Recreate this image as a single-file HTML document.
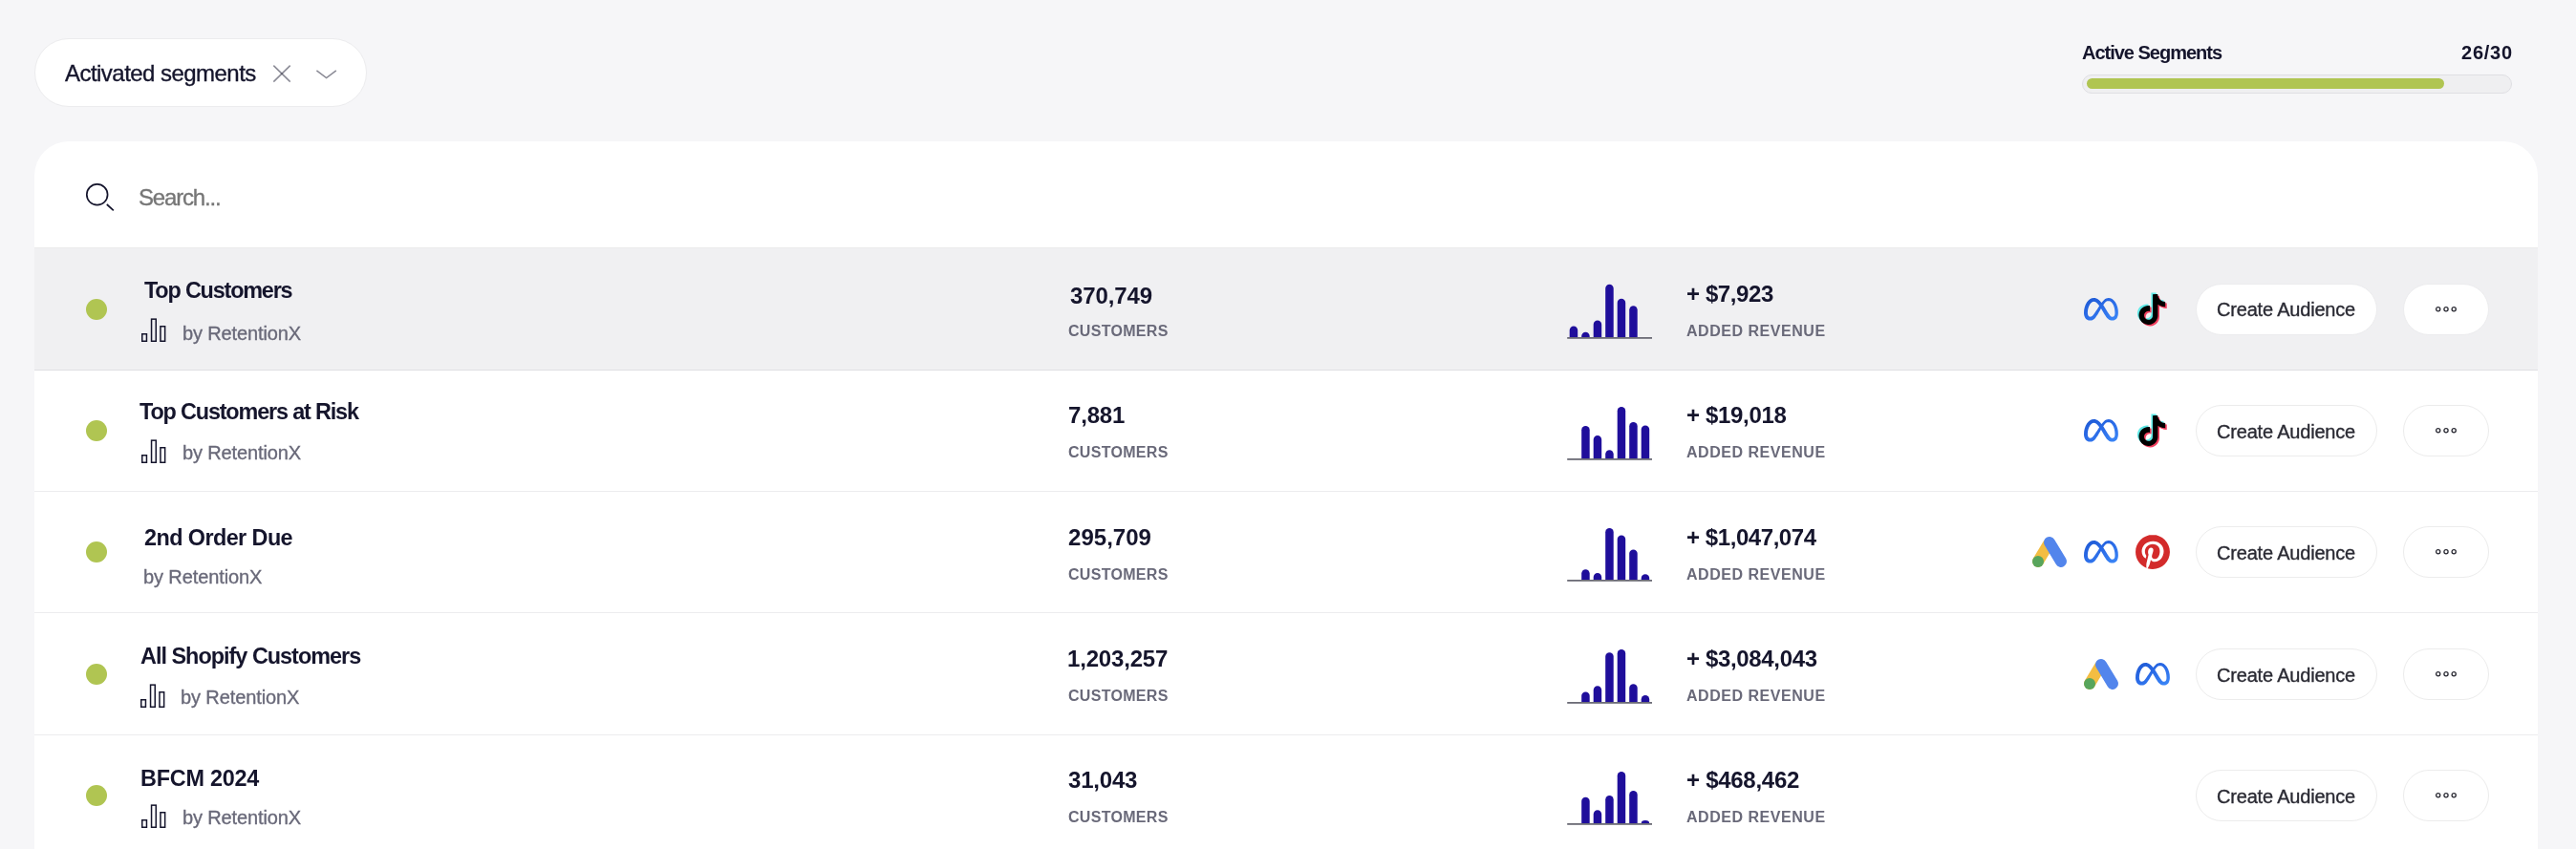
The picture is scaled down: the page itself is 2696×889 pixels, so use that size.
<!DOCTYPE html>
<html lang="en"><head><meta charset="utf-8"><title>Segments</title>
<style>
html,body{margin:0;padding:0}
html{overflow:hidden;width:2696px;height:889px}
body{width:2696px;height:889px;overflow:hidden;background:#f6f6f8;position:relative;font-family:"Liberation Sans", sans-serif}
h3,strong,span{font-weight:inherit;font-size:inherit}
.abs{position:absolute;box-sizing:content-box}
.t{position:absolute;white-space:nowrap;margin:0;padding:0;will-change:transform}
svg{display:block;overflow:visible}
.pill{border-radius:36px;background:#fff;border:1px solid #ececee}
.track{border-radius:10px;background:#efeff1;border:1px solid #dfdfe3}
.fill{border-radius:6px;background:#b0c552}
.cardbg{border-radius:36px 36px 0 0;background:#fff}
.line{left:36px;width:2620px;height:1px;background:#ececee}
.dot{width:22px;height:22px;border-radius:50%;background:#b0c552}
.btn{border-radius:27px;background:#fff;border:1px solid #ececec}
.btn.hov{border-color:#ececee}
</style></head><body>
<svg width="0" height="0" style="position:absolute"><defs><linearGradient id="mg" x1="0.1" y1="0" x2="0.9" y2="1"><stop offset="0" stop-color="#1f5ad4"/><stop offset="0.45" stop-color="#2a6ae6"/><stop offset="1" stop-color="#3b86f7"/></linearGradient></defs></svg>
<header class="toolbar">
<div class="filter">
<div class="abs pill" style="left:36px;top:40px;width:346px;height:70px"></div>
<svg class="abs" style="left:284px;top:65.7px" width="22" height="22" viewBox="0 0 22 22"><path d="M2.3 2.6L19.7 19.6" stroke="#15152c" stroke-opacity="0.5" stroke-width="1.5" fill="none"/><path d="M19.7 2.6L2.3 19.6" stroke="#15152c" stroke-opacity="0.5" stroke-width="1.5" fill="none"/></svg>
<svg class="abs" style="left:329px;top:69.7px" width="26" height="16" viewBox="0 0 26 16"><path d="M2.4 3.8L12.6 11.6L22.8 3.8" stroke="#15152c" stroke-opacity="0.5" stroke-width="1.5" fill="none"/></svg>
<span class="t" style="left:68.10px;top:63.00px;font-size:24px;line-height:27px;font-weight:400;color:#15152c;letter-spacing:-0.538px;-webkit-text-stroke:0.35px #15152c">Activated segments</span>
</div>
<div class="quota">
<div class="abs track" style="left:2179px;top:78px;width:448px;height:18px"></div>
<div class="abs fill" style="left:2184px;top:82px;width:374px;height:11px"></div>
<span class="t" style="left:2179.20px;top:44.00px;font-size:20px;line-height:22px;font-weight:700;color:#15152c;letter-spacing:-1.011px">Active Segments</span>
<span class="t" style="left:2575.90px;top:44.00px;font-size:20px;line-height:22px;font-weight:700;color:#15152c;letter-spacing:0.769px">26/30</span>
</div>
</header>
<main class="card">
<div class="abs cardbg" style="left:36px;top:147.6px;width:2620px;height:741.4px"></div>
<div class="search">
<svg class="abs" style="left:86px;top:188px" width="36" height="36" viewBox="0 0 36 36"><circle cx="15.7" cy="15.8" r="10.9" stroke="#15152c" stroke-width="1.7" fill="none"/><path d="M25.8 26.0L32.8 32.4" stroke="#15152c" stroke-width="1.7" fill="none"/></svg>
<div class="abs line" style="top:259px;background:#ebebec"></div>
<span class="t" style="left:145.10px;top:193.00px;font-size:24px;line-height:27px;font-weight:400;color:#767676;letter-spacing:-1.185px;-webkit-text-stroke:0.35px #767676">Search...</span>
</div>
<section class="row hover">
<div class="abs" style="left:36px;top:259px;width:2620px;height:128px;background:#f0f0f2"></div>
<div class="abs line" style="top:259px;background:#ebebec"></div>
<div class="abs line" style="top:387px;background:#dfdfe3"></div>
<div class="abs dot" style="left:90px;top:312.5px"></div>
<svg class="abs" style="left:146.7px;top:331.8px" width="28" height="27" viewBox="0 0 28 27" fill="none" stroke="#15152c" stroke-width="1.5"><rect x="1.75" y="17.75" width="4.70" height="7.50"/><rect x="11.55" y="2.15" width="4.70" height="23.10"/><rect x="20.95" y="9.75" width="4.70" height="15.50"/></svg>
<svg class="abs" style="left:1636px;top:283.0px" width="100" height="74" viewBox="0 0 100 74" fill="#1f0e9b"><path d="M6.70 70V62.75A4.25 4.25 0 0 1 15.20 62.75V70Z"/><path d="M19.20 70V68.95A4.25 4.25 0 0 1 27.70 68.95V70Z"/><path d="M31.70 70V56.85A4.25 4.25 0 0 1 40.20 56.85V70Z"/><path d="M44.20 70V18.95A4.25 4.25 0 0 1 52.70 18.95V70Z"/><path d="M56.70 70V34.05A4.25 4.25 0 0 1 65.20 34.05V70Z"/><path d="M69.20 70V41.45A4.25 4.25 0 0 1 77.70 41.45V70Z"/><rect x="4.2" y="70" width="88.8" height="1.8" fill="#6c6c76"/></svg>
<svg class="abs" style="left:2181.4px;top:311.7px" width="35.9" height="23.6" viewBox="0 4.03 24 15.94" preserveAspectRatio="none"><path d="M6.915 4.03c-1.968 0-3.683 1.28-4.871 3.113C.704 9.208 0 11.883 0 14.449c0 .706.07 1.369.21 1.973a6.624 6.624 0 0 0 .265.86 5.297 5.297 0 0 0 .371.761c.696 1.159 1.818 1.927 3.593 1.927 1.497 0 2.633-.671 3.965-2.444.76-1.012 1.144-1.626 2.663-4.32l.756-1.339.186-.325c.061.1.121.196.183.3l2.152 3.595c.724 1.21 1.665 2.556 2.47 3.314 1.046.987 1.992 1.22 3.06 1.22 1.075 0 1.876-.355 2.455-.843a3.743 3.743 0 0 0 .81-.973c.542-.939.861-2.127.861-3.745 0-2.72-.681-5.357-2.084-7.45-1.282-1.912-2.957-2.93-4.716-2.93-1.047 0-2.088.467-3.053 1.308-.652.57-1.257 1.29-1.82 2.05-.69-.875-1.335-1.547-1.958-2.056-1.182-.966-2.315-1.303-3.454-1.303zm10.16 2.053c1.147 0 2.188.758 2.992 1.999 1.132 1.748 1.647 4.195 1.647 6.4 0 1.548-.368 2.9-1.839 2.9-.58 0-1.027-.23-1.664-1.004-.496-.601-1.343-1.878-2.832-4.358l-.617-1.028a44.908 44.908 0 0 0-1.255-1.98c.07-.109.141-.224.211-.327 1.12-1.667 2.118-2.602 3.358-2.602zm-10.201.553c1.265 0 2.058.791 2.675 1.446.307.327.737.871 1.234 1.579l-1.02 1.566c-.757 1.163-1.882 3.017-2.837 4.338-1.191 1.649-1.81 1.817-2.486 1.817-.524 0-1.038-.237-1.383-.794-.263-.426-.464-1.13-.464-2.046 0-2.221.63-4.535 1.66-6.088.454-.687.964-1.226 1.533-1.533a2.264 2.264 0 0 1 1.088-.285z" fill="url(#mg)"/></svg>
<svg class="abs" style="left:2233.0px;top:303.5px" width="40" height="40" viewBox="0 0 40 40"><g transform="translate(1.84 2.50) scale(1.3250)"><path d="M12.525.02c1.31-.02 2.61-.01 3.91-.02.08 1.53.63 3.09 1.75 4.17 1.12 1.11 2.7 1.62 4.24 1.79v4.03c-1.44-.05-2.89-.35-4.2-.97-.57-.26-1.1-.59-1.62-.93-.01 2.92.01 5.84-.02 8.75-.08 1.4-.54 2.79-1.35 3.94-1.31 1.92-3.58 3.17-5.91 3.21-1.43.08-2.86-.31-4.08-1.03-2.02-1.19-3.44-3.37-3.65-5.71-.02-.5-.03-1-.01-1.49.18-1.9 1.12-3.72 2.58-4.96 1.66-1.44 3.98-2.13 6.15-1.72.02 1.48-.04 2.96-.04 4.44-.99-.32-2.15-.23-3.02.37-.63.41-1.11 1.04-1.36 1.75-.21.51-.15 1.07-.14 1.61.24 1.64 1.82 3.02 3.5 2.87 1.12-.01 2.19-.66 2.77-1.61.19-.33.4-.67.41-1.06.1-1.79.06-3.57.07-5.36.01-4.03-.01-8.05.02-12.07z" fill="#5fe8e6"/></g><g transform="translate(5.04 5.70) scale(1.3250)"><path d="M12.525.02c1.31-.02 2.61-.01 3.91-.02.08 1.53.63 3.09 1.75 4.17 1.12 1.11 2.7 1.62 4.24 1.79v4.03c-1.44-.05-2.89-.35-4.2-.97-.57-.26-1.1-.59-1.62-.93-.01 2.92.01 5.84-.02 8.75-.08 1.4-.54 2.79-1.35 3.94-1.31 1.92-3.58 3.17-5.91 3.21-1.43.08-2.86-.31-4.08-1.03-2.02-1.19-3.44-3.37-3.65-5.71-.02-.5-.03-1-.01-1.49.18-1.9 1.12-3.72 2.58-4.96 1.66-1.44 3.98-2.13 6.15-1.72.02 1.48-.04 2.96-.04 4.44-.99-.32-2.15-.23-3.02.37-.63.41-1.11 1.04-1.36 1.75-.21.51-.15 1.07-.14 1.61.24 1.64 1.82 3.02 3.5 2.87 1.12-.01 2.19-.66 2.77-1.61.19-.33.4-.67.41-1.06.1-1.79.06-3.57.07-5.36.01-4.03-.01-8.05.02-12.07z" fill="#f2405f"/></g><g transform="translate(3.44 4.10) scale(1.3250)"><path d="M12.525.02c1.31-.02 2.61-.01 3.91-.02.08 1.53.63 3.09 1.75 4.17 1.12 1.11 2.7 1.62 4.24 1.79v4.03c-1.44-.05-2.89-.35-4.2-.97-.57-.26-1.1-.59-1.62-.93-.01 2.92.01 5.84-.02 8.75-.08 1.4-.54 2.79-1.35 3.94-1.31 1.92-3.58 3.17-5.91 3.21-1.43.08-2.86-.31-4.08-1.03-2.02-1.19-3.44-3.37-3.65-5.71-.02-.5-.03-1-.01-1.49.18-1.9 1.12-3.72 2.58-4.96 1.66-1.44 3.98-2.13 6.15-1.72.02 1.48-.04 2.96-.04 4.44-.99-.32-2.15-.23-3.02.37-.63.41-1.11 1.04-1.36 1.75-.21.51-.15 1.07-.14 1.61.24 1.64 1.82 3.02 3.5 2.87 1.12-.01 2.19-.66 2.77-1.61.19-.33.4-.67.41-1.06.1-1.79.06-3.57.07-5.36.01-4.03-.01-8.05.02-12.07z" fill="#000"/></g></svg>
<div class="abs btn hov" style="left:2298.3px;top:297.0px;width:188px;height:52px"><span class="t" style="left:20.60px;top:15.00px;font-size:20px;line-height:22px;font-weight:400;color:#2a2a33;letter-spacing:-0.190px;-webkit-text-stroke:0.35px #2a2a33">Create Audience</span></div>
<div class="abs btn hov" style="left:2515.2px;top:297.0px;width:88px;height:52px"><svg class="abs" style="left:28.8px;top:20.0px" width="30" height="12" viewBox="0 0 30 12" fill="none" stroke="#2a2a33" stroke-width="1.3"><circle cx="6.7" cy="5.8" r="2.1"/><circle cx="15.0" cy="5.8" r="2.1"/><circle cx="23.2" cy="5.8" r="2.1"/></svg></div>
<h3 class="t" style="left:150.80px;top:291.00px;font-size:23.4px;line-height:26px;font-weight:700;color:#15152c;letter-spacing:-1.183px">Top Customers</h3>
<span class="t" style="left:191.30px;top:338.00px;font-size:20px;line-height:22px;font-weight:400;color:#696979;letter-spacing:-0.125px;-webkit-text-stroke:0.35px #696979">by RetentionX</span>
<strong class="t" style="left:1119.50px;top:296.00px;font-size:24px;line-height:27px;font-weight:700;color:#15152c;letter-spacing:-0.118px">370,749</strong>
<span class="t" style="left:1118.30px;top:338.00px;font-size:16px;line-height:17px;font-weight:700;color:#696979;letter-spacing:0.304px">CUSTOMERS</span>
<strong class="t" style="left:1764.70px;top:294.00px;font-size:24px;line-height:27px;font-weight:700;color:#15152c;letter-spacing:-0.392px">+ $7,923</strong>
<span class="t" style="left:1765.20px;top:338.00px;font-size:16px;line-height:17px;font-weight:700;color:#696979;letter-spacing:0.532px">ADDED REVENUE</span>
</section>
<section class="row">
<div class="abs line" style="top:514px"></div>
<div class="abs dot" style="left:90px;top:440.0px"></div>
<svg class="abs" style="left:146.7px;top:458.7px" width="28" height="27" viewBox="0 0 28 27" fill="none" stroke="#15152c" stroke-width="1.5"><rect x="1.75" y="17.75" width="4.70" height="7.50"/><rect x="11.55" y="2.15" width="4.70" height="23.10"/><rect x="20.95" y="9.75" width="4.70" height="15.50"/></svg>
<svg class="abs" style="left:1636px;top:410.0px" width="100" height="74" viewBox="0 0 100 74" fill="#1f0e9b"><path d="M19.20 70V40.15A4.25 4.25 0 0 1 27.70 40.15V70Z"/><path d="M31.70 70V50.25A4.25 4.25 0 0 1 40.20 50.25V70Z"/><path d="M44.20 70V65.45A4.25 4.25 0 0 1 52.70 65.45V70Z"/><path d="M56.70 70V20.35A4.25 4.25 0 0 1 65.20 20.35V70Z"/><path d="M69.20 70V36.35A4.25 4.25 0 0 1 77.70 36.35V70Z"/><path d="M81.70 70V39.85A4.25 4.25 0 0 1 90.20 39.85V70Z"/><rect x="4.2" y="70" width="88.8" height="1.8" fill="#6c6c76"/></svg>
<svg class="abs" style="left:2181.4px;top:438.9px" width="35.9" height="23.6" viewBox="0 4.03 24 15.94" preserveAspectRatio="none"><path d="M6.915 4.03c-1.968 0-3.683 1.28-4.871 3.113C.704 9.208 0 11.883 0 14.449c0 .706.07 1.369.21 1.973a6.624 6.624 0 0 0 .265.86 5.297 5.297 0 0 0 .371.761c.696 1.159 1.818 1.927 3.593 1.927 1.497 0 2.633-.671 3.965-2.444.76-1.012 1.144-1.626 2.663-4.32l.756-1.339.186-.325c.061.1.121.196.183.3l2.152 3.595c.724 1.21 1.665 2.556 2.47 3.314 1.046.987 1.992 1.22 3.06 1.22 1.075 0 1.876-.355 2.455-.843a3.743 3.743 0 0 0 .81-.973c.542-.939.861-2.127.861-3.745 0-2.72-.681-5.357-2.084-7.45-1.282-1.912-2.957-2.93-4.716-2.93-1.047 0-2.088.467-3.053 1.308-.652.57-1.257 1.29-1.82 2.05-.69-.875-1.335-1.547-1.958-2.056-1.182-.966-2.315-1.303-3.454-1.303zm10.16 2.053c1.147 0 2.188.758 2.992 1.999 1.132 1.748 1.647 4.195 1.647 6.4 0 1.548-.368 2.9-1.839 2.9-.58 0-1.027-.23-1.664-1.004-.496-.601-1.343-1.878-2.832-4.358l-.617-1.028a44.908 44.908 0 0 0-1.255-1.98c.07-.109.141-.224.211-.327 1.12-1.667 2.118-2.602 3.358-2.602zm-10.201.553c1.265 0 2.058.791 2.675 1.446.307.327.737.871 1.234 1.579l-1.02 1.566c-.757 1.163-1.882 3.017-2.837 4.338-1.191 1.649-1.81 1.817-2.486 1.817-.524 0-1.038-.237-1.383-.794-.263-.426-.464-1.13-.464-2.046 0-2.221.63-4.535 1.66-6.088.454-.687.964-1.226 1.533-1.533a2.264 2.264 0 0 1 1.088-.285z" fill="url(#mg)"/></svg>
<svg class="abs" style="left:2233.0px;top:430.7px" width="40" height="40" viewBox="0 0 40 40"><g transform="translate(1.84 2.50) scale(1.3250)"><path d="M12.525.02c1.31-.02 2.61-.01 3.91-.02.08 1.53.63 3.09 1.75 4.17 1.12 1.11 2.7 1.62 4.24 1.79v4.03c-1.44-.05-2.89-.35-4.2-.97-.57-.26-1.1-.59-1.62-.93-.01 2.92.01 5.84-.02 8.75-.08 1.4-.54 2.79-1.35 3.94-1.31 1.92-3.58 3.17-5.91 3.21-1.43.08-2.86-.31-4.08-1.03-2.02-1.19-3.44-3.37-3.65-5.71-.02-.5-.03-1-.01-1.49.18-1.9 1.12-3.72 2.58-4.96 1.66-1.44 3.98-2.13 6.15-1.72.02 1.48-.04 2.96-.04 4.44-.99-.32-2.15-.23-3.02.37-.63.41-1.11 1.04-1.36 1.75-.21.51-.15 1.07-.14 1.61.24 1.64 1.82 3.02 3.5 2.87 1.12-.01 2.19-.66 2.77-1.61.19-.33.4-.67.41-1.06.1-1.79.06-3.57.07-5.36.01-4.03-.01-8.05.02-12.07z" fill="#5fe8e6"/></g><g transform="translate(5.04 5.70) scale(1.3250)"><path d="M12.525.02c1.31-.02 2.61-.01 3.91-.02.08 1.53.63 3.09 1.75 4.17 1.12 1.11 2.7 1.62 4.24 1.79v4.03c-1.44-.05-2.89-.35-4.2-.97-.57-.26-1.1-.59-1.62-.93-.01 2.92.01 5.84-.02 8.75-.08 1.4-.54 2.79-1.35 3.94-1.31 1.92-3.58 3.17-5.91 3.21-1.43.08-2.86-.31-4.08-1.03-2.02-1.19-3.44-3.37-3.65-5.71-.02-.5-.03-1-.01-1.49.18-1.9 1.12-3.72 2.58-4.96 1.66-1.44 3.98-2.13 6.15-1.72.02 1.48-.04 2.96-.04 4.44-.99-.32-2.15-.23-3.02.37-.63.41-1.11 1.04-1.36 1.75-.21.51-.15 1.07-.14 1.61.24 1.64 1.82 3.02 3.5 2.87 1.12-.01 2.19-.66 2.77-1.61.19-.33.4-.67.41-1.06.1-1.79.06-3.57.07-5.36.01-4.03-.01-8.05.02-12.07z" fill="#f2405f"/></g><g transform="translate(3.44 4.10) scale(1.3250)"><path d="M12.525.02c1.31-.02 2.61-.01 3.91-.02.08 1.53.63 3.09 1.75 4.17 1.12 1.11 2.7 1.62 4.24 1.79v4.03c-1.44-.05-2.89-.35-4.2-.97-.57-.26-1.1-.59-1.62-.93-.01 2.92.01 5.84-.02 8.75-.08 1.4-.54 2.79-1.35 3.94-1.31 1.92-3.58 3.17-5.91 3.21-1.43.08-2.86-.31-4.08-1.03-2.02-1.19-3.44-3.37-3.65-5.71-.02-.5-.03-1-.01-1.49.18-1.9 1.12-3.72 2.58-4.96 1.66-1.44 3.98-2.13 6.15-1.72.02 1.48-.04 2.96-.04 4.44-.99-.32-2.15-.23-3.02.37-.63.41-1.11 1.04-1.36 1.75-.21.51-.15 1.07-.14 1.61.24 1.64 1.82 3.02 3.5 2.87 1.12-.01 2.19-.66 2.77-1.61.19-.33.4-.67.41-1.06.1-1.79.06-3.57.07-5.36.01-4.03-.01-8.05.02-12.07z" fill="#000"/></g></svg>
<div class="abs btn" style="left:2298.3px;top:424.0px;width:188px;height:52px"><span class="t" style="left:20.60px;top:16.00px;font-size:20px;line-height:22px;font-weight:400;color:#2a2a33;letter-spacing:-0.190px;-webkit-text-stroke:0.35px #2a2a33">Create Audience</span></div>
<div class="abs btn" style="left:2515.2px;top:424.0px;width:88px;height:52px"><svg class="abs" style="left:28.8px;top:20.0px" width="30" height="12" viewBox="0 0 30 12" fill="none" stroke="#2a2a33" stroke-width="1.3"><circle cx="6.7" cy="5.8" r="2.1"/><circle cx="15.0" cy="5.8" r="2.1"/><circle cx="23.2" cy="5.8" r="2.1"/></svg></div>
<h3 class="t" style="left:145.90px;top:418.00px;font-size:23.4px;line-height:26px;font-weight:700;color:#15152c;letter-spacing:-1.155px">Top Customers at Risk</h3>
<span class="t" style="left:190.50px;top:463.00px;font-size:20px;line-height:22px;font-weight:400;color:#696979;letter-spacing:-0.133px;-webkit-text-stroke:0.35px #696979">by RetentionX</span>
<strong class="t" style="left:1117.60px;top:421.00px;font-size:24px;line-height:27px;font-weight:700;color:#15152c;letter-spacing:-0.178px">7,881</strong>
<span class="t" style="left:1118.30px;top:465.00px;font-size:16px;line-height:17px;font-weight:700;color:#696979;letter-spacing:0.304px">CUSTOMERS</span>
<strong class="t" style="left:1764.70px;top:421.00px;font-size:24px;line-height:27px;font-weight:700;color:#15152c;letter-spacing:-0.324px">+ $19,018</strong>
<span class="t" style="left:1765.20px;top:465.00px;font-size:16px;line-height:17px;font-weight:700;color:#696979;letter-spacing:0.532px">ADDED REVENUE</span>
</section>
<section class="row">
<div class="abs line" style="top:641px"></div>
<div class="abs dot" style="left:90px;top:567.0px"></div>
<svg class="abs" style="left:1636px;top:537.0px" width="100" height="74" viewBox="0 0 100 74" fill="#1f0e9b"><path d="M19.20 70V63.45A4.25 4.25 0 0 1 27.70 63.45V70Z"/><path d="M31.70 70V67.25A4.25 4.25 0 0 1 40.20 67.25V70Z"/><path d="M44.20 70V20.35A4.25 4.25 0 0 1 52.70 20.35V70Z"/><path d="M56.70 70V27.85A4.25 4.25 0 0 1 65.20 27.85V70Z"/><path d="M69.20 70V42.65A4.25 4.25 0 0 1 77.70 42.65V70Z"/><path d="M81.70 70V68.55A4.25 4.25 0 0 1 90.20 68.55V70Z"/><rect x="4.2" y="70" width="88.8" height="1.8" fill="#6c6c76"/></svg>
<svg class="abs" style="left:2127.0px;top:562.0px" width="36" height="33" viewBox="0 0 36 33"><path d="M6 25.9L16.8 7.8" stroke="#f3bd42" stroke-width="12" stroke-linecap="round"/><path d="M18 6L30 25.9" stroke="#5285ec" stroke-width="12" stroke-linecap="round"/><circle cx="6" cy="25.9" r="6" fill="#58a55c"/></svg>
<svg class="abs" style="left:2181.4px;top:565.9px" width="35.9" height="23.6" viewBox="0 4.03 24 15.94" preserveAspectRatio="none"><path d="M6.915 4.03c-1.968 0-3.683 1.28-4.871 3.113C.704 9.208 0 11.883 0 14.449c0 .706.07 1.369.21 1.973a6.624 6.624 0 0 0 .265.86 5.297 5.297 0 0 0 .371.761c.696 1.159 1.818 1.927 3.593 1.927 1.497 0 2.633-.671 3.965-2.444.76-1.012 1.144-1.626 2.663-4.32l.756-1.339.186-.325c.061.1.121.196.183.3l2.152 3.595c.724 1.21 1.665 2.556 2.47 3.314 1.046.987 1.992 1.22 3.06 1.22 1.075 0 1.876-.355 2.455-.843a3.743 3.743 0 0 0 .81-.973c.542-.939.861-2.127.861-3.745 0-2.72-.681-5.357-2.084-7.45-1.282-1.912-2.957-2.93-4.716-2.93-1.047 0-2.088.467-3.053 1.308-.652.57-1.257 1.29-1.82 2.05-.69-.875-1.335-1.547-1.958-2.056-1.182-.966-2.315-1.303-3.454-1.303zm10.16 2.053c1.147 0 2.188.758 2.992 1.999 1.132 1.748 1.647 4.195 1.647 6.4 0 1.548-.368 2.9-1.839 2.9-.58 0-1.027-.23-1.664-1.004-.496-.601-1.343-1.878-2.832-4.358l-.617-1.028a44.908 44.908 0 0 0-1.255-1.98c.07-.109.141-.224.211-.327 1.12-1.667 2.118-2.602 3.358-2.602zm-10.201.553c1.265 0 2.058.791 2.675 1.446.307.327.737.871 1.234 1.579l-1.02 1.566c-.757 1.163-1.882 3.017-2.837 4.338-1.191 1.649-1.81 1.817-2.486 1.817-.524 0-1.038-.237-1.383-.794-.263-.426-.464-1.13-.464-2.046 0-2.221.63-4.535 1.66-6.088.454-.687.964-1.226 1.533-1.533a2.264 2.264 0 0 1 1.088-.285z" fill="url(#mg)"/></svg>
<svg class="abs" style="left:2235.0px;top:560.0px" width="36" height="36" viewBox="0 0 24 24"><circle cx="12" cy="12" r="11.5" fill="#fff"/><path d="M12.017 0C5.396 0 .029 5.367.029 11.987c0 5.079 3.158 9.417 7.618 11.162-.105-.949-.199-2.403.041-3.439.219-.937 1.406-5.957 1.406-5.957s-.359-.72-.359-1.781c0-1.663.967-2.911 2.168-2.911 1.024 0 1.518.769 1.518 1.688 0 1.029-.653 2.567-.992 3.992-.285 1.193.6 2.165 1.775 2.165 2.128 0 3.768-2.245 3.768-5.487 0-2.861-2.063-4.869-5.008-4.869-3.41 0-5.409 2.562-5.409 5.199 0 1.033.394 2.143.889 2.741.099.12.112.225.085.345-.09.375-.293 1.199-.334 1.363-.053.225-.172.271-.401.165-1.495-.69-2.433-2.878-2.433-4.646 0-3.776 2.748-7.252 7.92-7.252 4.158 0 7.392 2.967 7.392 6.923 0 4.135-2.607 7.462-6.233 7.462-1.214 0-2.354-.629-2.758-1.379l-.749 2.848c-.269 1.045-1.004 2.352-1.498 3.146 1.123.345 2.306.535 3.55.535 6.607 0 11.985-5.365 11.985-11.987C23.97 5.39 18.592.026 11.985.026L12.017 0z" fill="#d32b2b"/></svg>
<div class="abs btn" style="left:2298.3px;top:551.0px;width:188px;height:52px"><span class="t" style="left:20.60px;top:16.00px;font-size:20px;line-height:22px;font-weight:400;color:#2a2a33;letter-spacing:-0.190px;-webkit-text-stroke:0.35px #2a2a33">Create Audience</span></div>
<div class="abs btn" style="left:2515.2px;top:551.0px;width:88px;height:52px"><svg class="abs" style="left:28.8px;top:20.0px" width="30" height="12" viewBox="0 0 30 12" fill="none" stroke="#2a2a33" stroke-width="1.3"><circle cx="6.7" cy="5.8" r="2.1"/><circle cx="15.0" cy="5.8" r="2.1"/><circle cx="23.2" cy="5.8" r="2.1"/></svg></div>
<h3 class="t" style="left:150.80px;top:550.00px;font-size:23.4px;line-height:26px;font-weight:700;color:#15152c;letter-spacing:-0.571px">2nd Order Due</h3>
<span class="t" style="left:150.30px;top:593.00px;font-size:20px;line-height:22px;font-weight:400;color:#696979;letter-spacing:-0.108px;-webkit-text-stroke:0.35px #696979">by RetentionX</span>
<strong class="t" style="left:1118.20px;top:549.00px;font-size:24px;line-height:27px;font-weight:700;color:#15152c;letter-spacing:0.032px">295,709</strong>
<span class="t" style="left:1118.30px;top:593.00px;font-size:16px;line-height:17px;font-weight:700;color:#696979;letter-spacing:0.304px">CUSTOMERS</span>
<strong class="t" style="left:1764.70px;top:549.00px;font-size:24px;line-height:27px;font-weight:700;color:#15152c;letter-spacing:-0.432px">+ $1,047,074</strong>
<span class="t" style="left:1765.20px;top:593.00px;font-size:16px;line-height:17px;font-weight:700;color:#696979;letter-spacing:0.532px">ADDED REVENUE</span>
</section>
<section class="row">
<div class="abs line" style="top:769px"></div>
<div class="abs dot" style="left:90px;top:694.5px"></div>
<svg class="abs" style="left:146.0px;top:715.0px" width="28" height="27" viewBox="0 0 28 27" fill="none" stroke="#15152c" stroke-width="1.5"><rect x="1.75" y="17.75" width="4.70" height="7.50"/><rect x="11.55" y="2.15" width="4.70" height="23.10"/><rect x="20.95" y="9.75" width="4.70" height="15.50"/></svg>
<svg class="abs" style="left:1636px;top:665.0px" width="100" height="74" viewBox="0 0 100 74" fill="#1f0e9b"><path d="M19.20 70V63.65A4.25 4.25 0 0 1 27.70 63.65V70Z"/><path d="M31.70 70V57.45A4.25 4.25 0 0 1 40.20 57.45V70Z"/><path d="M44.20 70V22.55A4.25 4.25 0 0 1 52.70 22.55V70Z"/><path d="M56.70 70V19.35A4.25 4.25 0 0 1 65.20 19.35V70Z"/><path d="M69.20 70V55.55A4.25 4.25 0 0 1 77.70 55.55V70Z"/><path d="M81.70 70V67.25A4.25 4.25 0 0 1 90.20 67.25V70Z"/><rect x="4.2" y="70" width="88.8" height="1.8" fill="#6c6c76"/></svg>
<svg class="abs" style="left:2181.2px;top:689.5px" width="36" height="33" viewBox="0 0 36 33"><path d="M6 25.9L16.8 7.8" stroke="#f3bd42" stroke-width="12" stroke-linecap="round"/><path d="M18 6L30 25.9" stroke="#5285ec" stroke-width="12" stroke-linecap="round"/><circle cx="6" cy="25.9" r="6" fill="#58a55c"/></svg>
<svg class="abs" style="left:2235.2px;top:693.7px" width="35.9" height="23.6" viewBox="0 4.03 24 15.94" preserveAspectRatio="none"><path d="M6.915 4.03c-1.968 0-3.683 1.28-4.871 3.113C.704 9.208 0 11.883 0 14.449c0 .706.07 1.369.21 1.973a6.624 6.624 0 0 0 .265.86 5.297 5.297 0 0 0 .371.761c.696 1.159 1.818 1.927 3.593 1.927 1.497 0 2.633-.671 3.965-2.444.76-1.012 1.144-1.626 2.663-4.32l.756-1.339.186-.325c.061.1.121.196.183.3l2.152 3.595c.724 1.21 1.665 2.556 2.47 3.314 1.046.987 1.992 1.22 3.06 1.22 1.075 0 1.876-.355 2.455-.843a3.743 3.743 0 0 0 .81-.973c.542-.939.861-2.127.861-3.745 0-2.72-.681-5.357-2.084-7.45-1.282-1.912-2.957-2.93-4.716-2.93-1.047 0-2.088.467-3.053 1.308-.652.57-1.257 1.29-1.82 2.05-.69-.875-1.335-1.547-1.958-2.056-1.182-.966-2.315-1.303-3.454-1.303zm10.16 2.053c1.147 0 2.188.758 2.992 1.999 1.132 1.748 1.647 4.195 1.647 6.4 0 1.548-.368 2.9-1.839 2.9-.58 0-1.027-.23-1.664-1.004-.496-.601-1.343-1.878-2.832-4.358l-.617-1.028a44.908 44.908 0 0 0-1.255-1.98c.07-.109.141-.224.211-.327 1.12-1.667 2.118-2.602 3.358-2.602zm-10.201.553c1.265 0 2.058.791 2.675 1.446.307.327.737.871 1.234 1.579l-1.02 1.566c-.757 1.163-1.882 3.017-2.837 4.338-1.191 1.649-1.81 1.817-2.486 1.817-.524 0-1.038-.237-1.383-.794-.263-.426-.464-1.13-.464-2.046 0-2.221.63-4.535 1.66-6.088.454-.687.964-1.226 1.533-1.533a2.264 2.264 0 0 1 1.088-.285z" fill="url(#mg)"/></svg>
<div class="abs btn" style="left:2298.3px;top:679.0px;width:188px;height:52px"><span class="t" style="left:20.60px;top:16.00px;font-size:20px;line-height:22px;font-weight:400;color:#2a2a33;letter-spacing:-0.190px;-webkit-text-stroke:0.35px #2a2a33">Create Audience</span></div>
<div class="abs btn" style="left:2515.2px;top:679.0px;width:88px;height:52px"><svg class="abs" style="left:28.8px;top:20.0px" width="30" height="12" viewBox="0 0 30 12" fill="none" stroke="#2a2a33" stroke-width="1.3"><circle cx="6.7" cy="5.8" r="2.1"/><circle cx="15.0" cy="5.8" r="2.1"/><circle cx="23.2" cy="5.8" r="2.1"/></svg></div>
<h3 class="t" style="left:147.40px;top:674.00px;font-size:23.4px;line-height:26px;font-weight:700;color:#15152c;letter-spacing:-0.981px">All Shopify Customers</h3>
<span class="t" style="left:189.40px;top:719.00px;font-size:20px;line-height:22px;font-weight:400;color:#696979;letter-spacing:-0.108px;-webkit-text-stroke:0.35px #696979">by RetentionX</span>
<strong class="t" style="left:1117.20px;top:676.00px;font-size:24px;line-height:27px;font-weight:700;color:#15152c;letter-spacing:-0.178px">1,203,257</strong>
<span class="t" style="left:1118.30px;top:720.00px;font-size:16px;line-height:17px;font-weight:700;color:#696979;letter-spacing:0.304px">CUSTOMERS</span>
<strong class="t" style="left:1764.70px;top:676.00px;font-size:24px;line-height:27px;font-weight:700;color:#15152c;letter-spacing:-0.341px">+ $3,084,043</strong>
<span class="t" style="left:1765.20px;top:720.00px;font-size:16px;line-height:17px;font-weight:700;color:#696979;letter-spacing:0.532px">ADDED REVENUE</span>
</section>
<section class="row">

<div class="abs dot" style="left:90px;top:822.0px"></div>
<svg class="abs" style="left:146.7px;top:841.1px" width="28" height="27" viewBox="0 0 28 27" fill="none" stroke="#15152c" stroke-width="1.5"><rect x="1.75" y="17.75" width="4.70" height="7.50"/><rect x="11.55" y="2.15" width="4.70" height="23.10"/><rect x="20.95" y="9.75" width="4.70" height="15.50"/></svg>
<svg class="abs" style="left:1636px;top:792.0px" width="100" height="74" viewBox="0 0 100 74" fill="#1f0e9b"><path d="M19.20 70V47.05A4.25 4.25 0 0 1 27.70 47.05V70Z"/><path d="M31.70 70V60.45A4.25 4.25 0 0 1 40.20 60.45V70Z"/><path d="M44.20 70V45.25A4.25 4.25 0 0 1 52.70 45.25V70Z"/><path d="M56.70 70V20.35A4.25 4.25 0 0 1 65.20 20.35V70Z"/><path d="M69.20 70V40.15A4.25 4.25 0 0 1 77.70 40.15V70Z"/><path d="M81.70 70V70.00A4.25 3.10 0 0 1 90.20 70.00V70Z"/><rect x="4.2" y="70" width="88.8" height="1.8" fill="#6c6c76"/></svg>
<div class="abs btn" style="left:2298.3px;top:806.0px;width:188px;height:52px"><span class="t" style="left:20.60px;top:16.00px;font-size:20px;line-height:22px;font-weight:400;color:#2a2a33;letter-spacing:-0.190px;-webkit-text-stroke:0.35px #2a2a33">Create Audience</span></div>
<div class="abs btn" style="left:2515.2px;top:806.0px;width:88px;height:52px"><svg class="abs" style="left:28.8px;top:20.0px" width="30" height="12" viewBox="0 0 30 12" fill="none" stroke="#2a2a33" stroke-width="1.3"><circle cx="6.7" cy="5.8" r="2.1"/><circle cx="15.0" cy="5.8" r="2.1"/><circle cx="23.2" cy="5.8" r="2.1"/></svg></div>
<h3 class="t" style="left:147.20px;top:802.00px;font-size:23.4px;line-height:26px;font-weight:700;color:#15152c;letter-spacing:-0.223px">BFCM 2024</h3>
<span class="t" style="left:190.50px;top:845.00px;font-size:20px;line-height:22px;font-weight:400;color:#696979;letter-spacing:-0.133px;-webkit-text-stroke:0.35px #696979">by RetentionX</span>
<strong class="t" style="left:1118.20px;top:803.00px;font-size:24px;line-height:27px;font-weight:700;color:#15152c;letter-spacing:-0.192px">31,043</strong>
<span class="t" style="left:1118.30px;top:847.00px;font-size:16px;line-height:17px;font-weight:700;color:#696979;letter-spacing:0.304px">CUSTOMERS</span>
<strong class="t" style="left:1764.70px;top:803.00px;font-size:24px;line-height:27px;font-weight:700;color:#15152c;letter-spacing:-0.271px">+ $468,462</strong>
<span class="t" style="left:1765.20px;top:847.00px;font-size:16px;line-height:17px;font-weight:700;color:#696979;letter-spacing:0.532px">ADDED REVENUE</span>
</section>
</main>
</body></html>
